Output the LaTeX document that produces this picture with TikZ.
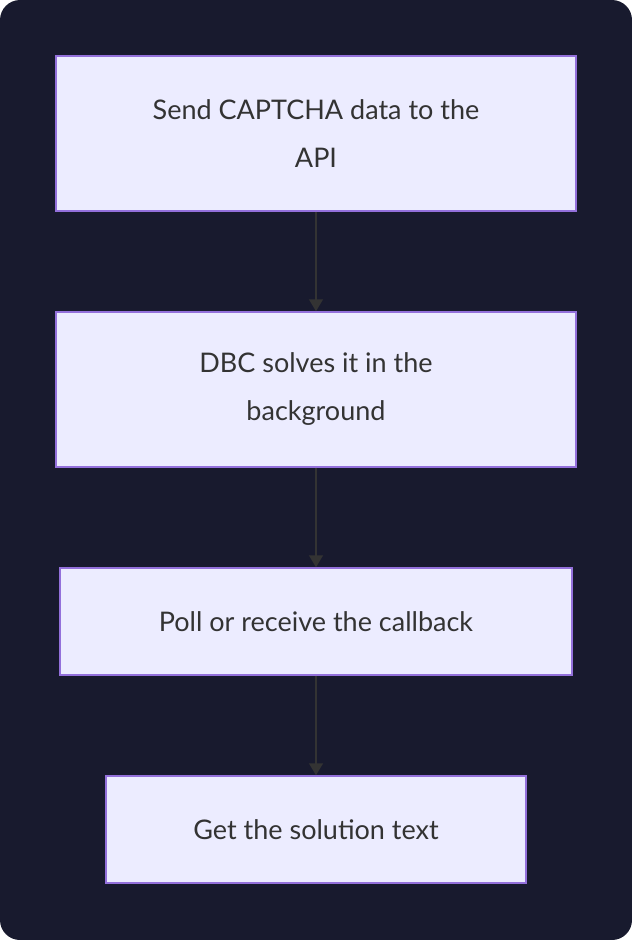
\documentclass[tikz,border=0pt]{standalone}
\usepackage{fontspec}
\setmainfont{Lato}
\usetikzlibrary{positioning,arrows.meta}
\definecolor{bgdark}{HTML}{181A2E}
\definecolor{boxfill}{HTML}{ECECFF}
\definecolor{boxline}{HTML}{9370DB}
\definecolor{txt}{HTML}{333333}
\tikzset{%
  stepbox/.style = { fill = boxfill, draw = boxline, line width = 1.5pt, align = center,
    text = txt, font = \fontsize{27}{48}\selectfont, inner sep = 0pt },
  arrow/.style   = { -{Triangle[length=12pt,width=14pt]}, draw = txt, line width = 1.5pt },
}
\begin{document}
\begin{tikzpicture}[x=1pt,y=-1pt]
    % background ------------------------------------------------------------------------------------
    \useasboundingbox (0,0) rectangle (632,940);
    \fill[bgdark, rounded corners=20pt] (0,0) rectangle (632,940);
    % nodes ----------------------------------------------------------------------------------------
    \node(send)   [stepbox, minimum width=520pt, minimum height=155pt] at (316,133.5) {Send CAPTCHA data to the\\API};
    \node(solve)  [stepbox, minimum width=520pt, minimum height=155pt] at (316,389.5) {DBC solves it in the\\background};
    \node(poll)   [stepbox, minimum width=512pt, minimum height=107pt] at (316,621.5) {Poll or receive the callback};
    \node(result) [stepbox, minimum width=420pt, minimum height=107pt] at (316,829.5) {Get the solution text};
    % arrows ---------------------------------------------------------------------------------------
    \draw[arrow] (send)  -- (solve);
    \draw[arrow] (solve) -- (poll);
    \draw[arrow] (poll)  -- (result);
\end{tikzpicture}
\end{document}
